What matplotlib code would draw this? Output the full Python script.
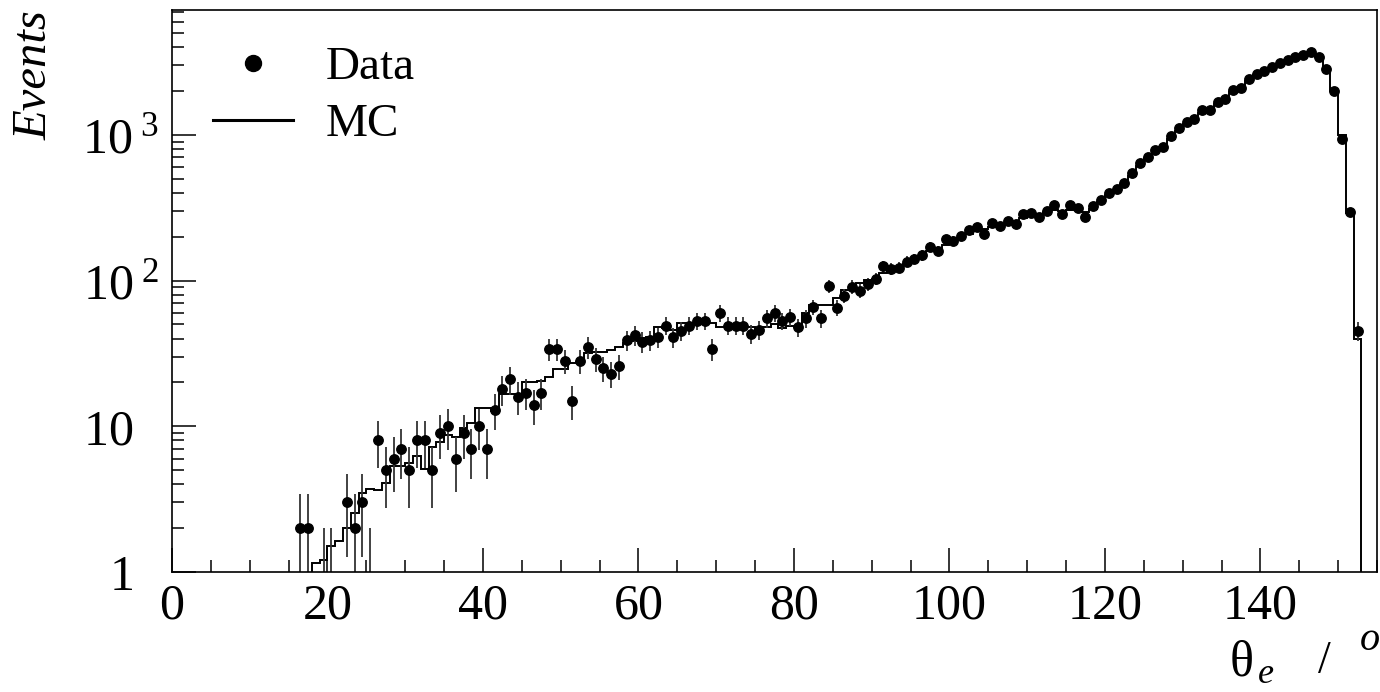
import numpy as np
import matplotlib.pyplot as plt
from matplotlib.legend_handler import HandlerLine2D
from matplotlib.ticker import FixedLocator, FixedFormatter, MultipleLocator, LogLocator, NullFormatter

plt.rcParams['font.family'] = ['Liberation Serif', 'DejaVu Serif']
plt.rcParams['mathtext.fontset'] = 'custom'
plt.rcParams['mathtext.rm'] = 'Liberation Serif'
plt.rcParams['mathtext.it'] = 'Liberation Serif:italic'

# 1 degree bins, counts
data_first_bin = 16
data_counts = [2, 2, 0, 1, 1, 0, 3, 2, 3, 1,
               8, 5, 6, 7, 5, 8, 8, 5, 9, 10,
               6, 9, 7, 10, 7, 13, 18, 21, 16, 17,
               14, 17, 34, 34, 28, 15, 28, 35, 29, 25,
               23, 26, 39, 42, 38, 39, 41, 49, 41, 45,
               49, 53, 53, 34, 60, 49, 49, 49, 43, 46,
               55, 60, 53, 56, 48, 55, 66, 55, 92, 65,
               79, 91, 85, 95, 103, 126, 121, 123, 135, 141,
               149, 171, 160, 193, 188, 203, 222, 232, 208, 247,
               236, 257, 243, 286, 292, 275, 302, 329, 286, 329,
               315, 275, 324, 357, 401, 427, 468, 550, 645, 709,
               791, 829, 977, 1109, 1220, 1285, 1482, 1482, 1682, 1755,
               2033, 2108, 2408, 2619, 2747, 2941, 3100, 3266, 3443, 3533,
               3690, 3443, 2834, 1991, 937, 294, 45]

mc_first_bin = 18
mc_counts = [1.15, 1.2, 1.5, 1.64, 2.0, 2.55, 3.5, 3.7,
             3.65, 4.1, 5.3, 5.35, 5.6, 6.3, 5.1, 7.2, 7.8, 8.7,
             8.4, 9.8, 10.6, 13.4, 13.4, 12.7, 16.7, 16.7, 16.7, 20.0,
             20.2, 20.4, 21.9, 24.6, 24.6, 27.3, 27.5, 31.7, 32.2, 32.4,
             33.4, 34.9, 37.1, 38.5, 40.5, 41.0, 47.8, 47.5, 46.0, 51,
             51, 51, 51, 51, 48, 48.3, 49, 48.3, 48.3, 46,
             48, 50, 47, 49, 48.3, 60, 67.6, 68, 68, 75.5,
             86, 86, 97, 101, 103, 112, 118, 124, 131, 139,
             147, 160, 167, 175, 185, 195, 210, 220, 225, 235,
             240, 245, 255, 270, 280, 285, 295, 305, 300, 305,
             305, 295, 310, 345, 385, 420, 460, 520, 610, 690,
             770, 830, 940, 1070, 1180, 1270, 1420, 1480, 1640, 1740,
             1960, 2100, 2350, 2560, 2720, 2900, 3060, 3240, 3400, 3520,
             3600, 3430, 2880, 2000, 1000, 290, 40]

y_ticks = [1, 10, 100, 1000]
y_tick_labels = ['1  ', '10  ', r'$\mathregular{10^{\ 2}}$', r'$\mathregular{10^{\ 3}}$']


class MarkerAtEnd(HandlerLine2D):
    # ROOT style: marker drawn at the right end of the legend symbol
    def get_xdata(self, legend, xdescent, ydescent, width, height, fontsize):
        xdata, _ = super().get_xdata(legend, xdescent, ydescent, width, height, fontsize)
        return xdata, np.array([-xdescent + width])


W, H = 1380, 692
fig = plt.figure(figsize=(W / 100, H / 100), dpi=100)
ax = fig.add_axes([172 / W, 120 / H, 1205 / W, 562 / H])

y = np.array(data_counts, dtype=float)
x = data_first_bin + np.arange(len(y)) + 0.5
nz = y > 0
big = y > 1
ax.errorbar(x[nz], y[nz], yerr=np.sqrt(y[nz]), fmt='none', ecolor='#333333', elinewidth=1.3)
ax.plot(x[big], y[big], 'o', color='black', ms=6.8)

edges = mc_first_bin + np.arange(len(mc_counts) + 1)
ax.stairs(mc_counts, edges, color='black', lw=1.4, baseline=0.1)

ax.set_yscale('log')
ax.set_xlim(0, 155)
ax.set_ylim(1, 7200)

ax.xaxis.set_major_locator(MultipleLocator(20))
ax.xaxis.set_minor_locator(MultipleLocator(5))
ax.yaxis.set_major_locator(FixedLocator(y_ticks))
ax.yaxis.set_major_formatter(FixedFormatter(y_tick_labels))
ax.yaxis.set_minor_locator(LogLocator(base=10, subs=np.arange(2, 10)))
ax.yaxis.set_minor_formatter(NullFormatter())

ax.tick_params(which='both', direction='in', top=False, right=False, width=1.1, color='black')
ax.tick_params(which='major', length=17, labelsize=36)
ax.tick_params(which='minor', length=8.3)
ax.tick_params(axis='x', which='major', pad=8)
ax.tick_params(axis='y', which='major', pad=9)
for s in ax.spines.values():
    s.set_linewidth(1.2)

# legend
h_data, = ax.plot([], [], 'o', color='black', ms=11.5)
h_mc, = ax.plot([], [], '-', color='black', lw=2.2)
ax.legend([h_data, h_mc], ['Data', 'MC'], loc='upper left', frameon=False, fontsize=34,
          bbox_to_anchor=((213 - 172) / 1205, (572 - 46) / 562), borderpad=0, borderaxespad=0,
          handlelength=1.7, handletextpad=0.68, labelspacing=0.3,
          handler_map={h_data: MarkerAtEnd(numpoints=1)})

# axis titles
fig.text(13 / W, 1 - 10 / H, 'Events', rotation=90, ha='left', va='top', fontsize=35, style='italic')
fig.text(1230 / W, (H - 675) / H, 'θ', ha='left', va='baseline', fontsize=36)
fig.text(1258 / W, (H - 683) / H, 'e', ha='left', va='baseline', fontsize=26, style='italic')
fig.text(1318 / W, (H - 673) / H, '/', ha='left', va='baseline', fontsize=33)
fig.text(1360 / W, (H - 650) / H, 'o', ha='left', va='baseline', fontsize=29, style='italic')

fig.savefig('out.png', dpi=100)
